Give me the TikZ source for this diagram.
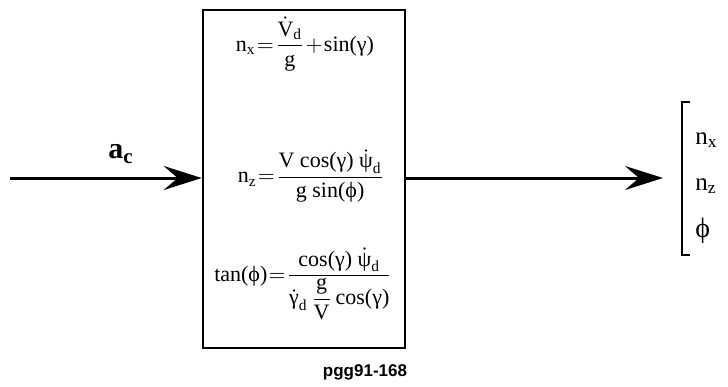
\documentclass[tikz,border=0pt]{standalone}
\usepackage{amsmath}
\usepackage{fontspec}
\setmainfont{Liberation Serif}
\newfontfamily\tagfont{Liberation Sans}
\usetikzlibrary{arrows.meta,positioning}

\newcommand{\tr}[1]{\text{#1}}
\newcommand{\tightsp}{\thickmuskip=1mu\relax\medmuskip=1mu\relax}

\begin{document}
\begin{tikzpicture}[
    x=0.5pt, y=-0.5pt,
    >={Stealth[length=19pt,width=12pt,inset=7pt]},
    signal/.style={->, line width=1.5pt},
    eqn/.style={font=\fontsize{11}{13}\selectfont, inner sep=0pt},
    outvar/.style={font=\fontsize{12.5}{14}\selectfont, anchor=west, inner sep=0pt},
]
\useasboundingbox (0,0) rectangle (728,386);

% Transformation block
\node[draw, line width=1.3pt, minimum width=101pt, minimum height=169pt,
      inner sep=0pt] (dyn) at (304,179) {};

% Equations inside the block
\node[eqn] (eqnx) at (305,44)
  {$\tightsp\tr{n}_{\tr{x}} = \dfrac{\dot{\tr{V}}_{\tr{d}}}{\tr{g}} + \tr{sin(γ)}$};
\node[eqn] (eqnz) at (311,176)
  {$\tightsp\tr{n}_{\tr{z}} = \dfrac{\tr{V cos(γ) }\dot{\tr{ψ}}_{\tr{d}}}{\tr{g sin(ϕ)}}$};
\node[eqn] (eqphi) at (303,284)
  {$\tightsp\tr{tan(ϕ)} = \dfrac{\tr{cos(γ) }\dot{\tr{ψ}}_{\tr{d}}}{\dot{\tr{γ}}_{\tr{d}}\,\dfrac{\tr{g}}{\tr{V}}\,\tr{cos(γ)}}$};

% Input signal
\coordinate (in) at (10,178);
\draw[signal] (in) -- (dyn.west |- in);
\node[font=\fontsize{15}{17}\selectfont\bfseries] (ac) at (121,154) {a$_{\text{c}}$};

% Output signal
\coordinate (out) at (663,178);
\draw[signal] (dyn.east |- out) -- (out);

% Output vector
\draw[line width=0.9pt] (690,102) -- (682,102) -- (682,255) -- (690,255);
\node[outvar] (onx) at (695,140) {n$_{\text{x}}$};
\node[outvar] (onz) at (695,186) {n$_{\text{z}}$};
\node[outvar, font=\fontsize{14}{16}\selectfont] (ophi) at (695,231) {ϕ};

% Figure tag
\node[font=\tagfont\fontsize{8.5}{10}\selectfont\bfseries] (tag) at (365,372) {pgg91-168};

\end{tikzpicture}
\end{document}
